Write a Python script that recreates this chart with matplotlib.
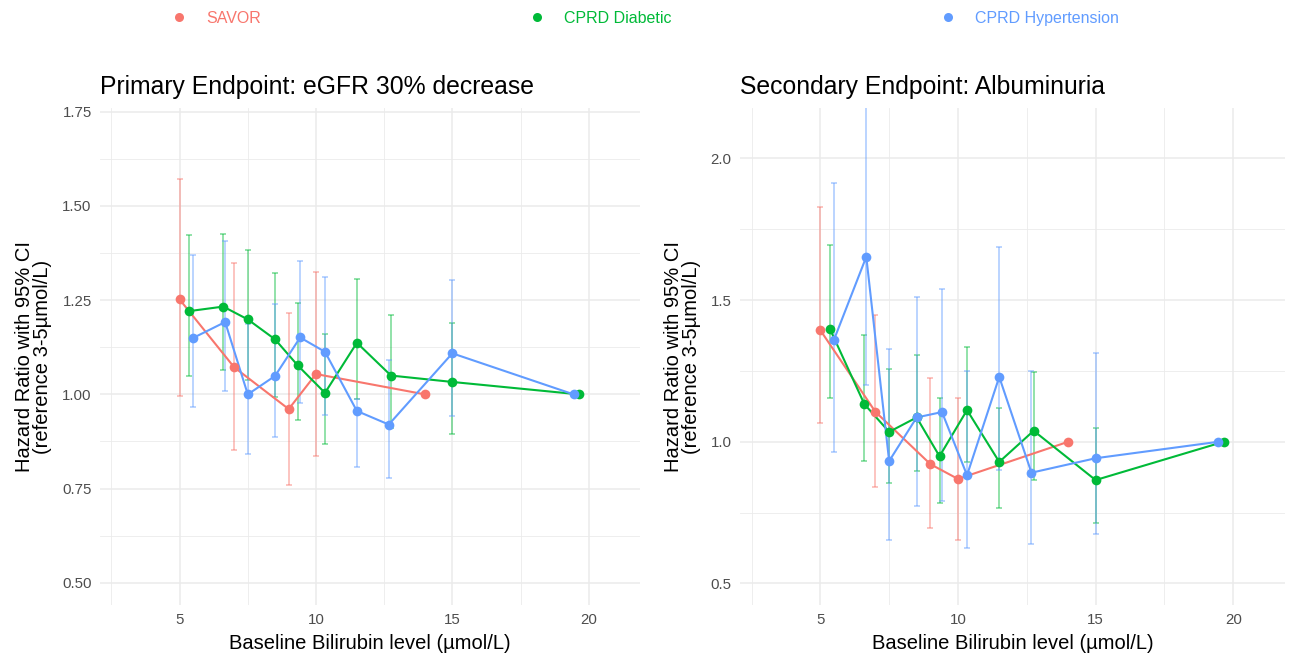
import matplotlib
matplotlib.use('Agg')
import matplotlib.pyplot as plt
from matplotlib.lines import Line2D
import numpy as np

plt.rcParams['font.family'] = ['Liberation Sans', 'DejaVu Sans']

RED = '#F8766D'
GREEN = '#00BA38'
BLUE = '#619CFF'

# baseline bilirubin group positions (umol/L)
savor_x = [5.0, 7.0, 9.0, 10.0, 14.0]
diab_x = [5.35, 6.6, 7.5, 8.5, 9.33, 10.33, 11.5, 12.75, 15.0, 19.65]
hyp_x = [5.5, 6.67, 7.5, 8.5, 9.42, 10.33, 11.5, 12.67, 15.0, 19.45]

# primary endpoint: eGFR 30% decrease
p_savor_hr = [1.252, 1.072, 0.961, 1.054, 1.0]
p_savor_lo = [0.997, 0.853, 0.760, 0.837, np.nan]
p_savor_hi = [1.572, 1.348, 1.216, 1.326, np.nan]

p_diab_hr = [1.221, 1.233, 1.199, 1.146, 1.077, 1.004, 1.137, 1.050, 1.033, 1.0]
p_diab_lo = [1.049, 1.066, 1.037, 0.993, 0.933, 0.869, 0.989, 0.912, 0.896, np.nan]
p_diab_hi = [1.423, 1.426, 1.384, 1.323, 1.243, 1.159, 1.306, 1.211, 1.190, np.nan]

p_hyp_hr = [1.150, 1.192, 1.000, 1.049, 1.151, 1.113, 0.956, 0.920, 1.109, 1.0]
p_hyp_lo = [0.966, 1.009, 0.843, 0.887, 0.977, 0.944, 0.807, 0.778, 0.942, np.nan]
p_hyp_hi = [1.369, 1.408, 1.187, 1.240, 1.354, 1.311, 0.989, 1.090, 1.304, np.nan]

# secondary endpoint: albuminuria
s_savor_hr = [1.394, 1.106, 0.921, 0.869, 1.0]
s_savor_lo = [1.065, 0.841, 0.695, 0.655, np.nan]
s_savor_hi = [1.827, 1.449, 1.224, 1.156, np.nan]

s_diab_hr = [1.398, 1.133, 1.035, 1.086, 0.949, 1.112, 0.929, 1.039, 0.865, 1.0]
s_diab_lo = [1.155, 0.934, 0.853, 0.898, 0.785, 0.929, 0.768, 0.865, 0.714, np.nan]
s_diab_hi = [1.694, 1.376, 1.256, 1.306, 1.153, 1.335, 1.120, 1.247, 1.047, np.nan]

s_hyp_hr = [1.361, 1.653, 0.932, 1.086, 1.105, 0.882, 1.229, 0.891, 0.942, 1.0]
s_hyp_lo = [0.965, 1.200, 0.653, 0.773, 0.792, 0.627, 0.900, 0.638, 0.676, np.nan]
s_hyp_hi = [1.914, 2.450, 1.329, 1.512, 1.539, 1.249, 1.686, 1.249, 1.314, np.nan]

labels = ['SAVOR', 'CPRD Diabetic', 'CPRD Hypertension']
colors = [RED, GREEN, BLUE]


def panel(ax, series, title, ylim, yticks, yminor):
    xs = [savor_x, diab_x, hyp_x]
    # error bars first, then lines, then points
    for x, (hr, lo, hi), c in zip(xs, series, colors):
        hr, lo, hi = np.array(hr), np.array(lo), np.array(hi)
        ax.errorbar(x, hr, yerr=[hr - lo, hi - hr], fmt='none', ecolor=c,
                    alpha=0.5, elinewidth=1.2, capsize=2.0, capthick=1.2, zorder=2)
    for x, (hr, lo, hi), c in zip(xs, series, colors):
        ax.plot(x, hr, color=c, lw=1.5, zorder=3)
    for x, (hr, lo, hi), c in zip(xs, series, colors):
        ax.plot(x, hr, 'o', color=c, ms=7, zorder=4, markeredgewidth=0)

    ax.set_xlim(2.08, 21.88)
    ax.set_ylim(*ylim)
    ax.set_xticks([5, 10, 15, 20])
    ax.set_xticks([2.5, 7.5, 12.5, 17.5], minor=True)
    ax.set_yticks(yticks)
    ax.set_yticks(yminor, minor=True)
    ax.grid(which='major', color='#EBEBEB', lw=1.1)
    ax.grid(which='minor', color='#EBEBEB', lw=0.6)
    ax.set_axisbelow(True)
    for s in ax.spines.values():
        s.set_visible(False)
    ax.tick_params(which='both', length=0, labelsize=10.8, labelcolor='#4D4D4D', pad=6)
    ax.set_title(title, loc='left', fontsize=17.8, pad=10)
    ax.set_xlabel('Baseline Bilirubin level (µmol/L)', fontsize=14.5, labelpad=5)
    ax.set_ylabel('Hazard Ratio with 95% CI\n(reference 3-5µmol/L)', fontsize=14.5,
                  labelpad=7, linespacing=0.95)


fig = plt.figure(figsize=(12.9, 6.57), dpi=100)
ax1 = fig.add_axes([0.0775, 0.0791, 0.4186, 0.7565])
ax2 = fig.add_axes([0.5736, 0.0791, 0.4225, 0.7565])

panel(ax1,
      [(p_savor_hr, p_savor_lo, p_savor_hi), (p_diab_hr, p_diab_lo, p_diab_hi),
       (p_hyp_hr, p_hyp_lo, p_hyp_hi)],
      'Primary Endpoint: eGFR 30% decrease', (0.441, 1.760),
      [0.50, 0.75, 1.00, 1.25, 1.50, 1.75], [0.625, 0.875, 1.125, 1.375, 1.625])
ax1.set_yticklabels(['0.50', '0.75', '1.00', '1.25', '1.50', '1.75'])

panel(ax2,
      [(s_savor_hr, s_savor_lo, s_savor_hi), (s_diab_hr, s_diab_lo, s_diab_hi),
       (s_hyp_hr, s_hyp_lo, s_hyp_hi)],
      'Secondary Endpoint: Albuminuria', (0.424, 2.178),
      [0.5, 1.0, 1.5, 2.0], [0.75, 1.25, 1.75])
ax2.set_yticklabels(['0.5', '1.0', '1.5', '2.0'])

handles = [Line2D([], [], ls='none', marker='o', ms=6.5, color=c, markeredgewidth=0)
           for c in colors]
fig.legend(handles, labels, loc='center', bbox_to_anchor=(0.5, 0.972), ncol=3,
           frameon=False, fontsize=11.5, labelcolor=colors, handlelength=1.0,
           handletextpad=1.2, columnspacing=16.8)

fig.savefig('out.png', dpi=100)
